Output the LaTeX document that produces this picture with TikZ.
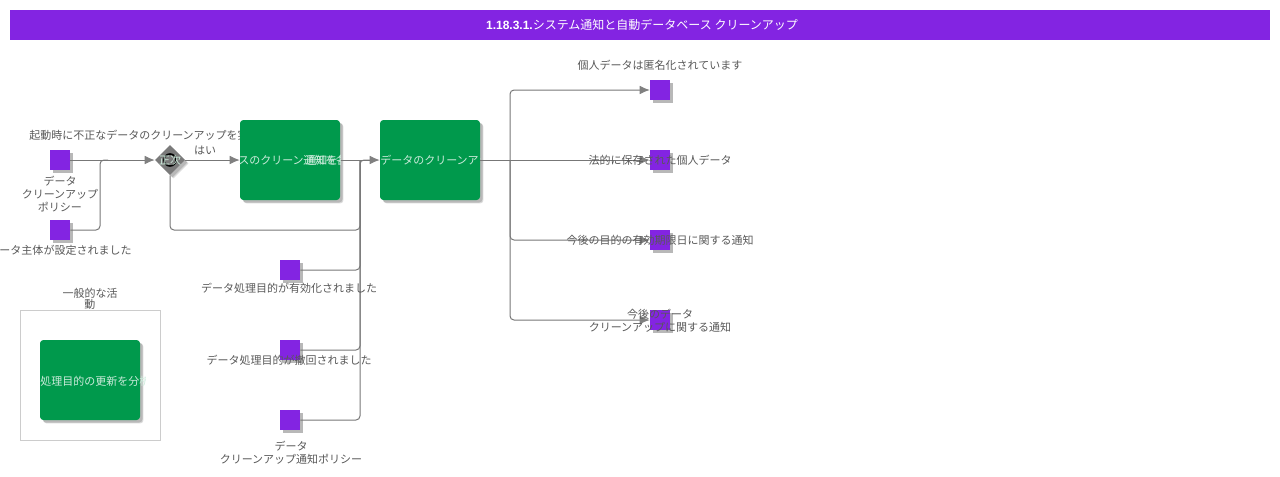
\documentclass[tikz,border=0pt]{standalone}
\usepackage{fontspec}
\setmainfont{Noto Sans CJK JP}
\newfontfamily\latinfont{Liberation Sans}
\usetikzlibrary{arrows.meta,shadows,shapes.geometric}
\definecolor{barpurple}{RGB}{131,36,226}
\definecolor{taskgreen}{RGB}{0,153,76}
\definecolor{flowgray}{RGB}{119,119,119}
\definecolor{labelgray}{RGB}{88,88,88}
\tikzset{
  myshadow/.style={
    drop shadow={shadow xshift=2.6pt,shadow yshift=-2.6pt,fill=black,opacity=.14},
    drop shadow={shadow xshift=1.9pt,shadow yshift=-1.9pt,fill=black,opacity=.16}},
  eventbox/.style={draw=none,fill=barpurple,minimum size=15pt,inner sep=0pt,myshadow},
  taskbox/.style={draw=none,fill=taskgreen,rounded corners=2.5pt,minimum width=75pt,minimum height=60pt,inner sep=0pt,myshadow},
  tasktext/.style={text=white!80!taskgreen,font=\fontsize{8.25pt}{10pt}\selectfont,inner sep=0pt},
  lbl/.style={text=labelgray,font=\fontsize{8.25pt}{9.75pt}\selectfont,align=center,inner sep=0pt},
  flow/.style={draw=flowgray,line width=.75pt,rounded corners=3pt},
  flowto/.style={flow,-{Latex[length=7.5pt,width=6.5pt,color=gray]}}
}
\begin{document}
\begin{tikzpicture}[x=.75pt,y=-.75pt]
  \useasboundingbox (0,0) rectangle (1280,476);

  \node[fill=barpurple,minimum width=945pt,minimum height=22.5pt,inner sep=0pt,text=white,font=\fontsize{9pt}{11pt}\selectfont] (title) at (640,25)
    {\hspace{3pt}{\latinfont\bfseries 1.18.3.1.}システム通知と自動データベース クリーンアップ};

  % label lies under the first task
  \node[lbl,anchor=west] (gwlabel) at (29,135.5) {起動時に不正なデータのクリーンアップを実行};

  \node[draw=black!20,line width=.75pt,minimum width=105pt,minimum height=97.5pt,inner sep=0pt] (group) at (90,375) {};
  \node[lbl,font=\fontsize{8.25pt}{6.75pt}\selectfont] (grouplabel) at (90,298.5) {一般的な活\\動};

  \node[eventbox] (ev1) at (60,160) {};
  \node[eventbox] (ev2) at (60,230) {};
  \node[eventbox] (ev3) at (290,270) {};
  \node[eventbox] (ev4) at (290,350) {};
  \node[eventbox] (ev5) at (290,420) {};
  \node[eventbox] (ev6) at (660,90) {};
  \node[eventbox] (ev7) at (660,160) {};
  \node[eventbox] (ev8) at (660,240) {};
  \node[eventbox] (ev9) at (660,320) {};

  \node[diamond,fill=black!52,minimum size=22.5pt,inner sep=0pt,myshadow] (gw) at (170,160) {};
  \node[taskbox] (task1) at (290,160) {};
  \node[taskbox] (task2) at (430,160) {};
  \node[taskbox] (task3) at (90,380) {};

  \coordinate (j1) at (100,160);
  \coordinate (j2) at (360,160);
  \coordinate (j3) at (510,160);

  \draw[flowto] (ev1) -- (gw);
  \draw[flow] (ev2) -| (j1) -- ++(8,0);
  \draw[flowto] (gw) -- (task1);
  \draw[flowto] (task1) -- (task2);
  \draw[flow] (gw.south) |- (j2 |- ev2) -- (j2) -- ++(10,0);
  \draw[flow] (ev3) -| (j2);
  \draw[flow] (ev4) -| (j2);
  \draw[flow] (ev5) -| (j2);
  \draw[flowto] (task2) -- (ev7);
  \draw[flowto] (j3) |- (ev6);
  \draw[flowto] (j3) |- (ev8);
  \draw[flowto] (j3) |- (ev9);

  % clipped task texts
  \begin{scope}
    \clip (task1.south west) rectangle (task1.north east);
    \node[tasktext,anchor=west] (t1a) at (238,160.5) {スのクリーン};
    \node[tasktext,anchor=west] (t1b) at (303,160.5) {通知を各};
    \node[tasktext,anchor=west] (t1c) at (305,160.5) {通知を各};
  \end{scope}
  \begin{scope}
    \clip (task2.south west) rectangle (task2.north east);
    \node[tasktext,anchor=west] (t2) at (380,160.5) {データのクリーンアップ};
  \end{scope}
  \begin{scope}
    \clip (40,340) rectangle (145,420);
    \node[tasktext,anchor=west] (t3) at (40,381.5) {処理目的の更新を分析};
  \end{scope}

  \node[draw=black,line width=1.2pt,circle,minimum size=9pt,inner sep=0pt] (gwring) at (170,160) {};
  \node[tasktext] (gwtext) at (170,160.5) {正次};

  \node[lbl] (yes) at (205,150.5) {はい};
  \node[lbl] (l1) at (60,194.5) {データ\\クリーンアップ\\ポリシー};
  \node[lbl] (l2) at (60,250.5) {データ主体が設定されました};
  \node[lbl] (l3) at (289,288.5) {データ処理目的が有効化されました};
  \node[lbl] (l4) at (289,360.5) {データ処理目的が撤回されました};
  \node[lbl] (l5) at (291,453) {データ\\クリーンアップ通知ポリシー};
  \node[lbl] (l6) at (660,65.5) {個人データは匿名化されています};
  \node[lbl] (l7) at (660,160.5) {法的に保存された個人データ};
  \node[lbl] (l8) at (660,240.5) {今後の目的の有効期限日に関する通知};
  \node[lbl] (l9) at (660,321) {今後のデータ\\クリーンアップに関する通知};
\end{tikzpicture}
\end{document}
